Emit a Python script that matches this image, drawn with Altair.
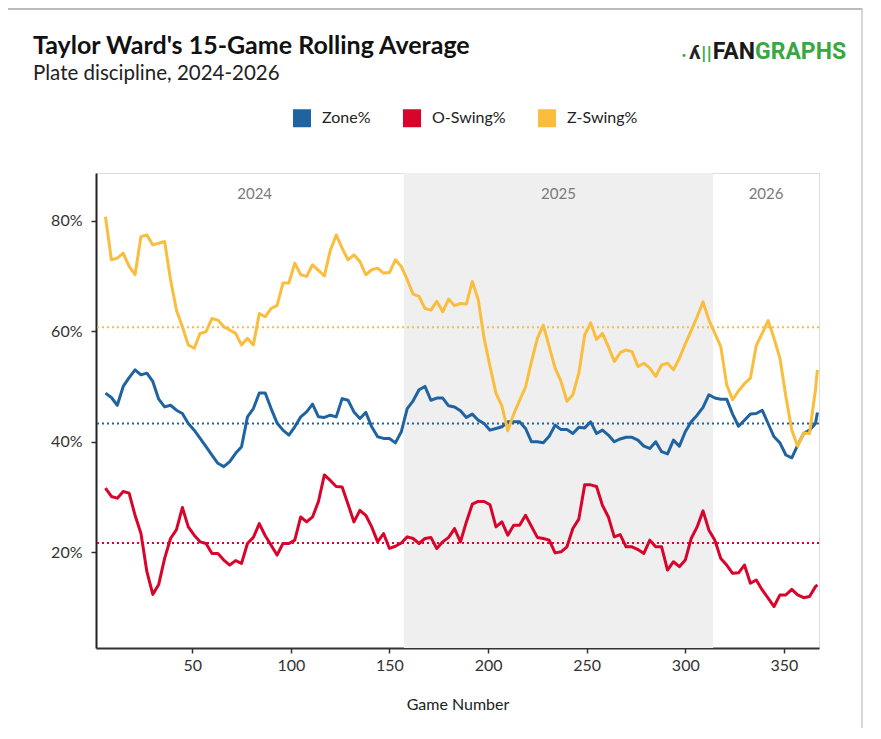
import altair as alt
import pandas as pd

# ---------------- data ----------------
games = list(range(6, 367, 3)) + [367]

zone = [
    48.8, 48.0, 46.6, 50.0, 51.6, 53.0, 52.1, 52.4, 50.9, 47.7,
    46.3, 46.6, 45.7, 45.1, 43.3, 42.1, 40.6, 39.1, 37.6, 36.1,
    35.5, 36.4, 37.9, 39.1, 44.5, 46.0, 48.8, 48.8, 46.0, 43.4,
    42.1, 41.2, 42.7, 44.5, 45.4, 46.8, 44.5, 44.4, 44.8, 44.5,
    47.8,
    47.5, 45.4, 44.2, 45.3, 42.7, 40.9, 40.6, 40.6, 39.8, 41.8,
    46.0, 47.4, 49.4, 50.0, 47.5, 47.9, 47.9, 46.5, 46.3, 45.6,
    44.4, 45.0, 43.9, 43.3, 42.1, 42.4, 42.7, 43.6, 43.6, 43.6,
    42.4, 40.0, 40.0, 39.8, 41.0, 43.0, 42.2, 42.2, 41.5, 42.6,
    42.5,
    43.6, 41.5, 42.1, 41.2, 40.0, 40.5, 40.8, 40.8, 40.3, 39.2,
    38.8, 40.0, 38.2, 37.8, 40.3, 39.2, 41.8, 43.6, 44.8, 46.2,
    48.5, 47.9, 47.7, 47.7, 45.0, 42.8, 43.9, 45.0, 45.1, 45.7,
    43.3, 40.9, 39.8, 37.6, 37.1, 39.4, 41.5, 42.1, 43.3, 45.3,
]

oswing = [
    31.6, 30.1, 29.8, 31.0, 30.7, 26.7, 23.4, 16.5, 12.4, 14.2,
    18.9, 22.5, 24.1, 28.1, 24.6, 23.1, 21.9, 21.6, 19.8, 19.8,
    18.6, 17.7, 18.5, 18.0, 21.6, 22.7, 25.2, 23.0, 21.3, 19.5,
    21.6, 21.6, 22.2, 26.4, 25.5, 26.4, 29.2, 34.0, 33.0, 31.9,
    31.8,
    28.7, 25.5, 27.6, 26.7, 24.6, 21.9, 23.4, 20.7, 21.1, 21.7,
    22.8, 22.5, 21.6, 22.5, 22.7, 20.7, 21.9, 22.7, 24.3, 21.9,
    25.5, 28.7, 29.2, 29.2, 28.6, 24.6, 25.5, 23.1, 24.9, 24.9,
    26.7, 24.7, 22.7, 22.5, 22.2, 19.9, 20.1, 21.0, 24.3, 26.0,
    32.2,
    32.2, 31.9, 28.5, 26.4, 22.8, 23.2, 21.0, 21.0, 20.5, 19.8,
    22.2, 21.0, 21.0, 16.8, 18.3, 17.4, 18.6, 22.5, 24.6, 27.5,
    24.0, 22.2, 18.9, 17.7, 16.2, 16.3, 17.7, 14.4, 15.0, 13.2,
    11.7, 10.2, 12.3, 12.3, 13.3, 12.3, 11.8, 12.0, 13.8, 14.1,
]

zswing = [
    80.7, 72.9, 73.2, 74.1, 71.7, 70.2, 77.1, 77.4, 75.6, 75.9,
    76.2, 69.3, 63.8, 60.8, 57.5, 56.9, 59.6, 59.9, 62.3, 62.0,
    60.8, 60.2, 59.6, 57.5, 58.7, 57.5, 63.2, 62.6, 64.1, 64.6,
    68.7, 68.7, 72.3, 70.2, 69.9, 72.0, 71.0, 70.0, 74.6, 77.4,
    75.0,
    72.9, 73.8, 72.6, 70.2, 71.1, 71.4, 70.5, 70.6, 72.9, 71.7,
    69.3, 66.7, 66.3, 64.1, 63.8, 65.4, 63.5, 65.8, 64.6, 65.0,
    64.9, 69.0, 65.7, 58.7, 53.6, 48.8, 46.5, 42.0, 45.0, 47.5,
    49.9, 54.5, 58.7, 61.1, 57.2, 53.3, 50.9, 47.3, 48.5, 52.4,
    59.3,
    61.5, 58.5, 59.6, 57.2, 54.5, 56.1, 56.6, 56.3, 53.6, 54.2,
    53.3, 51.8, 53.9, 54.2, 53.0, 55.1, 57.7, 60.1, 62.6, 65.3,
    62.0, 59.6, 57.2, 50.3, 47.6, 49.2, 50.5, 51.5, 57.4, 59.6,
    61.9, 58.7, 55.1, 48.2, 42.1, 39.2, 41.6, 41.5, 49.4, 53.0,
]

series_names = ["Zone%", "O-Swing%", "Z-Swing%"]
series_colors = ["#1f64a0", "#d8042c", "#fbbd3d"]
series_means = [43.3, 21.7, 60.7]

seasons = ["2024", "2025", "2026"]
season_start = [6.0, 157.3, 314.1]
season_end = [157.3, 314.1, 367.8]
season_shaded = [False, True, False]

x_ticks = [50, 100, 150, 200, 250, 300, 350]
y_ticks = [20, 40, 60, 80]

title_text = "Taylor Ward's 15-Game Rolling Average"
subtitle_text = "Plate discipline, 2024-2026"

# ---------------- tables ----------------
rows = []
for name, vals in zip(series_names, [zone, oswing, zswing]):
    for g, v in zip(games, vals):
        rows.append({"game": g, "value": v, "series": name})
lines_df = pd.DataFrame(rows)
means_df = pd.DataFrame({"series": series_names, "mean": series_means})
season_df = pd.DataFrame({
    "season": seasons, "start": season_start, "end": season_end,
    "shaded": season_shaded,
})
season_df["mid"] = (season_df["start"] + season_df["end"]) / 2
one = pd.DataFrame({"k": [0]})

# ---------------- layout ----------------
W, H = 723, 475
FONT = "Lato"

x_scale = alt.Scale(domain=[1.2, 367.8], nice=False, zero=False)
y_scale = alt.Scale(domain=[2.7, 88.6], nice=False, zero=False)
color_scale = alt.Scale(domain=series_names, range=series_colors)

x_axis = alt.Axis(
    values=x_ticks, title="Game Number", grid=False,
    domainColor="#333333", domainWidth=2, tickColor="#333333", tickWidth=1.5,
    tickSize=5, labelFontSize=16, labelFont=FONT, labelColor="#333333",
    labelPadding=4, titleFont=FONT, titleFontSize=16, titleFontWeight="normal",
    titleColor="#222222", titlePadding=23,
)
y_axis = alt.Axis(
    values=y_ticks, labelExpr="datum.value + '%'", title=None, grid=False,
    domainColor="#222222", domainWidth=2, tickColor="#333333", tickWidth=1.5,
    tickSize=5, labelFontSize=16, labelFont=FONT, labelColor="#333333",
    labelPadding=9,
)

shade = alt.Chart(season_df).transform_filter("datum.shaded").mark_rect(
    color="#efefef"
).encode(
    x=alt.X("start:Q", scale=x_scale, axis=x_axis),
    x2="end:Q",
    y=alt.value(0),
    y2=alt.value(H),
)

year_text = alt.Chart(season_df).mark_text(
    font=FONT, fontSize=15, color="#7a7a7a", baseline="middle"
).encode(
    x=alt.X("mid:Q", scale=x_scale),
    y=alt.value(21),
    text="season:N",
)

mean_rules = alt.Chart(means_df).mark_rule(strokeWidth=2, strokeDash=[2, 3]).encode(
    y=alt.Y("mean:Q", scale=y_scale, axis=y_axis),
    color=alt.Color("series:N", scale=color_scale, legend=None),
)

lines = alt.Chart(lines_df).mark_line(strokeWidth=3, strokeJoin="round").encode(
    x=alt.X("game:Q", scale=x_scale),
    y=alt.Y("value:Q", scale=y_scale),
    color=alt.Color(
        "series:N", scale=color_scale,
        legend=alt.Legend(
            title=None, orient="none", legendX=197, legendY=-64,
            direction="horizontal", symbolType="square", symbolSize=81,
            symbolStrokeWidth=9, symbolOpacity=1, labelFont=FONT,
            labelFontSize=16, labelColor="#222222", labelOffset=11,
            columnPadding=18,
        ),
    ),
    order="game:Q",
)

title_mark = alt.Chart(one).mark_text(
    text=title_text, font=FONT, fontSize=25, fontWeight="bold", color="#111111",
    align="left", baseline="alphabetic",
).encode(x=alt.value(-63), y=alt.value(-119))
subtitle_mark = alt.Chart(one).mark_text(
    text=subtitle_text, font=FONT, fontSize=20.5, color="#222222",
    align="left", baseline="alphabetic",
).encode(x=alt.value(-63), y=alt.value(-93))

logo_dot = alt.Chart(one).mark_text(
    text="•", font="DejaVu Sans", fontSize=10, color="#3aa842", align="left", baseline="alphabetic"
).encode(x=alt.value(585), y=alt.value(-114))
logo_fig = alt.Chart(one).mark_text(
    text="ʎ", font="DejaVu Sans", fontSize=18, fontWeight="bold", color="#222222", align="left", baseline="alphabetic"
).encode(x=alt.value(593), y=alt.value(-114))
logo_bars = alt.Chart(one).mark_text(
    text="||", font="DejaVu Sans", fontSize=15, fontWeight="bold", color="#3aa842", align="left", baseline="alphabetic"
).encode(x=alt.value(605), y=alt.value(-115))
logo_fan = alt.Chart(one).mark_text(
    text="FAN", font="Roboto", fontSize=23, fontWeight="bold", color="#1a1a1a", align="right", baseline="alphabetic"
).encode(x=alt.value(659), y=alt.value(-114))
logo_graphs = alt.Chart(one).mark_text(
    text="GRAPHS", font="Roboto", fontSize=23, fontWeight="bold", color="#3aa842", align="left", baseline="alphabetic"
).encode(x=alt.value(659), y=alt.value(-114))

frame_right = alt.Chart(one).mark_rule(color="#cccccc", strokeWidth=1.5).encode(
    x=alt.value(766), y=alt.value(-165), y2=alt.value(H + 90)
)
frame_top = alt.Chart(one).mark_rule(color="#bbbbbb", strokeWidth=2).encode(
    x=alt.value(-88), x2=alt.value(766), y=alt.value(-164)
)

chart = alt.layer(
    shade, year_text, mean_rules, lines,
    title_mark, subtitle_mark,
    logo_dot, logo_fig, logo_bars, logo_fan, logo_graphs,
    frame_right, frame_top,
).resolve_legend(color="independent").properties(
    width=W,
    height=H,
    autosize=alt.AutoSizeParams(type="none"),
    padding={"left": 88, "top": 165, "right": 50, "bottom": 80},
).configure_view(stroke=None).configure(background="white")

chart.save("out.html", embed_options={"renderer": "svg", "actions": False})
